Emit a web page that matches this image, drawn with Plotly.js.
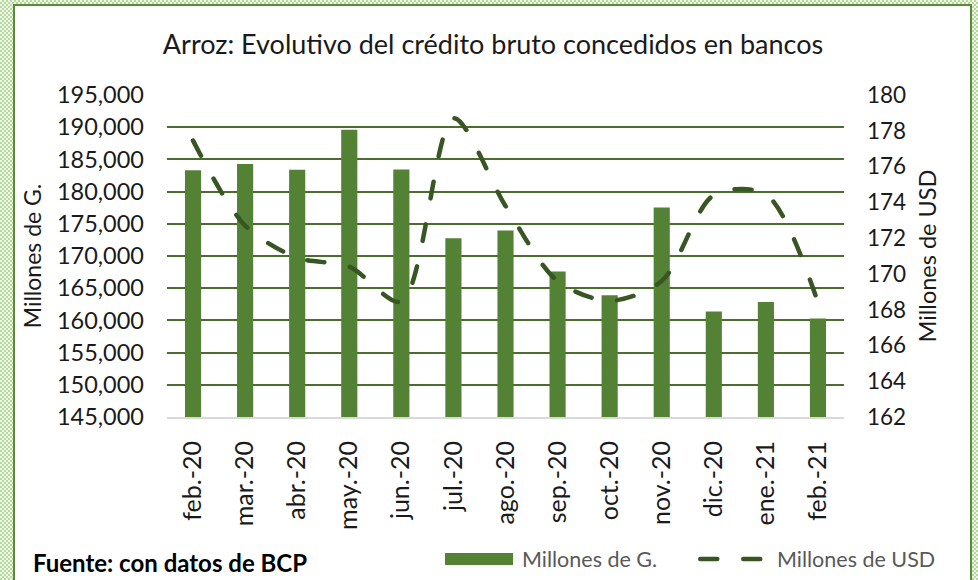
<!DOCTYPE html>
<html>
<head>
<meta charset="utf-8">
<script src="https://cdn.plot.ly/plotly-3.0.1.min.js"></script>
<style>
  html, body { margin: 0; padding: 0; }
  body {
    width: 978px; height: 580px; overflow: hidden; position: relative;
    background: repeating-conic-gradient(#b9d8a0 0 25%, #eef7e6 0 50%) 0 0 / 4px 4px;
  }
  #frame {
    position: absolute; left: 13px; top: 4px; width: 959px; height: 590px;
    background: #ffffff; border: 2px solid #5a8a3a; box-sizing: border-box;
  }
  #chart { position: absolute; left: 0; top: 0; width: 978px; height: 580px; }
  .scatterlayer .js-line, .legend .js-line { stroke-linecap: round; }
</style>
</head>
<body>
<div id="frame"></div>
<div id="chart"></div>
<script>
const categories = ['feb.-20','mar.-20','abr.-20','may.-20','jun.-20','jul.-20','ago.-20','sep.-20','oct.-20','nov.-20','dic.-20','ene.-21','feb.-21'];
const millonesG = [183300, 184300, 183400, 189600, 183450, 172750, 173950, 167600, 163900, 177550, 161400, 162850, 160300];
const millonesUSD = [177.45, 172.7, 170.9, 170.4, 168.45, 178.7, 173.8, 169.6, 168.5, 169.6, 174.4, 174.45, 168.4];
const leftTicks = [145000,150000,155000,160000,165000,170000,175000,180000,185000,190000,195000];
const leftTickText = ['145,000','150,000','155,000','160,000','165,000','170,000','175,000','180,000','185,000','190,000','195,000'];
const rightTicks = [162,164,166,168,170,172,174,176,178,180];

const font = 'Lato, "Open Sans", sans-serif';

const traces = [
  {
    type: 'bar', name: 'Millones de G.', x: categories, y: millonesG,
    marker: { color: '#548235' }, yaxis: 'y'
  },
  {
    type: 'scatter', mode: 'lines', name: 'Millones de USD', x: categories, y: millonesUSD,
    yaxis: 'y2',
    line: { color: '#375623', width: 4.5, dash: '17px,26px', shape: 'spline', smoothing: 0.85 }
  }
];

const layout = {
  width: 978, height: 580,
  paper_bgcolor: 'rgba(0,0,0,0)', plot_bgcolor: 'rgba(0,0,0,0)',
  margin: { l: 167, r: 134, t: 95, b: 163, autoexpand: false },
  bargap: 0.69,
  showlegend: true,
  title: {
    text: 'Arroz: Evolutivo del crédito bruto concedidos en bancos',
    font: { family: font, size: 27, color: '#1a1a1a' },
    x: 493 / 978, xref: 'container', xanchor: 'center', y: 1 - 45 / 580, yref: 'container', yanchor: 'middle'
  },
  font: { family: font, color: '#1a1a1a' },
  xaxis: {
    type: 'category', tickangle: -90, ticks: '', ticklabelstandoff: 12,
    tickfont: { family: font, size: 25, color: '#1a1a1a' },
    showline: true, linecolor: '#d9d9d9', linewidth: 2, showgrid: false,
    range: [-0.5, 12.5], fixedrange: true
  },
  yaxis: {
    range: [145000, 195000], tickvals: leftTicks, ticktext: leftTickText,
    tickfont: { family: font, size: 23.5, color: '#1a1a1a' },
    gridcolor: '#4b6e2f', gridwidth: 2, zeroline: false, ticks: '', ticklabelstandoff: 22,
    title: { text: 'Millones de G.', font: { family: font, size: 23, color: '#1a1a1a' }, standoff: 8 }
  },
  yaxis2: {
    overlaying: 'y', side: 'right', range: [162, 180], tickvals: rightTicks,
    tickfont: { family: font, size: 22.5, color: '#1a1a1a' },
    showgrid: false, zeroline: false, ticks: '', ticklabelstandoff: 22,
    title: { text: 'Millones de USD', font: { family: font, size: 23.5, color: '#1a1a1a' }, standoff: 14 }
  },
  legend: {
    orientation: 'h', x: (442 - 167) / 677, xanchor: 'left',
    yref: 'container', y: 1 - 559 / 580, yanchor: 'middle',
    font: { family: font, size: 21.5, color: '#595959' },
    bgcolor: 'rgba(0,0,0,0)', itemwidth: 70, entrywidth: 170, tracegroupgap: 0
  },
  annotations: [
    {
      text: '<b>Fuente: con datos de BCP</b>', xref: 'paper', yref: 'paper',
      x: (31 - 167) / 677, xanchor: 'left', y: (417 - 562.5) / 322, yanchor: 'middle', showarrow: false,
      font: { family: font, size: 24, color: '#000000' }
    }
  ]
};

function reshapeLegend(gd) {
  const items = gd.querySelectorAll('g.legend g.traces');
  items.forEach(item => {
    const text = item.querySelector('text.legendtext');
    if (!text) return;
    const tl = text.getBoundingClientRect().left;
    const label = text.textContent;
    let path, d;
    if (label.indexOf('USD') >= 0) {
      path = item.querySelector('.legendlines path');
    } else {
      const paths = Array.from(item.querySelectorAll('.legendpoints path')).filter(p => p.getAttribute('d'));
      path = paths[0];
    }
    if (!path) return;
    const bb = path.getBBox();
    const r = path.getBoundingClientRect();
    const offX = r.left - bb.x;
    const yc = bb.y + bb.height / 2;
    if (label.indexOf('USD') >= 0) {
      const x0 = tl - 76.75 - offX, x1 = tl - 16.25 - offX;
      d = 'M' + x0 + ',' + yc + 'H' + x1;
    } else {
      const x0 = tl - 77 - offX, x1 = tl - 9 - offX;
      d = 'M' + x0 + ',' + (yc - 6) + 'H' + x1 + 'V' + (yc + 6) + 'H' + x0 + 'Z';
    }
    path.setAttribute('d', d);
  });
}

Plotly.newPlot('chart', traces, layout, { staticPlot: true, displayModeBar: false }).then(reshapeLegend);
</script>
</body>
</html>
